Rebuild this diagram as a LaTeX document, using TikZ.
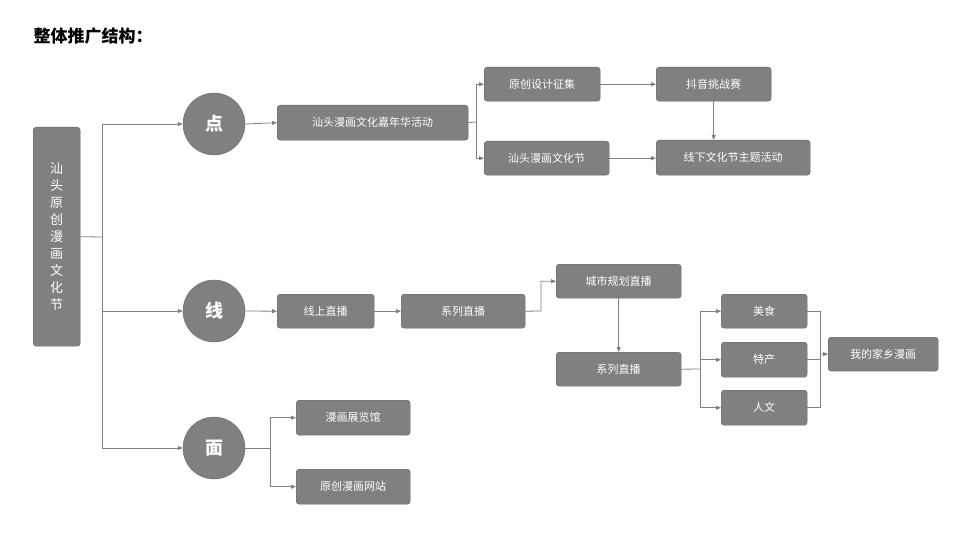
\documentclass[tikz,border=0pt]{standalone}
\usepackage{fontspec}
\setmainfont{Noto Sans CJK SC}
\usetikzlibrary{arrows.meta}
\begin{document}
\begin{tikzpicture}[x=1pt,y=-1pt,
  bx/.style={draw=black!60,fill=black!50,rounded corners=3pt,text=white,font=\fontsize{11}{13}\selectfont,inner sep=0pt,anchor=north west},
  cir/.style={draw=black!60,fill=black!50,circle,minimum size=62pt,text=white,font=\fontsize{18}{20}\selectfont\bfseries,inner sep=0pt},
  ln/.style={draw=black!50,line width=0.8pt},
  ar/.style={ln,-{Triangle[length=5pt,width=4pt]}}]
\useasboundingbox (0,0) rectangle (960,540);
\node[anchor=west,font=\fontsize{17}{20}\selectfont\bfseries] (title) at (30,36) {整体推广结构：};
\newcommand{\bxat}[5]{\node[bx,minimum width=#4-#2,minimum height=#5-#3] (#1) at (#2,#3) {};}
\node[bx,minimum width=47pt,minimum height=219pt] (root) at (33,127) {};
\node[text=white,font=\fontsize{13}{17}\selectfont,align=center] (roott) at (root.center) {汕\\头\\原\\创\\漫\\画\\文\\化\\节};
\node[cir] (dian) at (214,124) {点};
\node[cir] (xian) at (214,311) {线};
\node[cir] (mian) at (214,448) {面};
\node[bx,minimum width=191pt,minimum height=35pt] (a1) at (277,105) {};
\node[text=white,font=\fontsize{11}{13}\selectfont] at (a1.center) {汕头漫画文化嘉年华活动};
\node[bx,minimum width=116pt,minimum height=34pt] (a2) at (484,67) {};
\node[text=white,font=\fontsize{11}{13}\selectfont] at (a2.center) {原创设计征集};
\node[bx,minimum width=125pt,minimum height=34pt] (a3) at (484,141) {};
\node[text=white,font=\fontsize{11}{13}\selectfont] at (a3.center) {汕头漫画文化节};
\node[bx,minimum width=115pt,minimum height=34pt] (a4) at (656,67) {};
\node[text=white,font=\fontsize{11}{13}\selectfont] at (a4.center) {抖音挑战赛};
\node[bx,minimum width=154pt,minimum height=35pt] (a5) at (656,140) {};
\node[text=white,font=\fontsize{11}{13}\selectfont] at (a5.center) {线下文化节主题活动};
\node[bx,minimum width=97pt,minimum height=34pt] (b1) at (277,294) {};
\node[text=white,font=\fontsize{11}{13}\selectfont] at (b1.center) {线上直播};
\node[bx,minimum width=124pt,minimum height=34pt] (b2) at (401,294) {};
\node[text=white,font=\fontsize{11}{13}\selectfont] at (b2.center) {系列直播};
\node[bx,minimum width=125pt,minimum height=34pt] (b3) at (556,264) {};
\node[text=white,font=\fontsize{11}{13}\selectfont] at (b3.center) {城市规划直播};
\node[bx,minimum width=125pt,minimum height=34pt] (b4) at (556,352) {};
\node[text=white,font=\fontsize{11}{13}\selectfont] at (b4.center) {系列直播};
\node[bx,minimum width=86pt,minimum height=34pt] (c1) at (721,294) {};
\node[text=white,font=\fontsize{11}{13}\selectfont] at (c1.center) {美食};
\node[bx,minimum width=86pt,minimum height=35pt] (c2) at (721,342) {};
\node[text=white,font=\fontsize{11}{13}\selectfont] at (c2.center) {特产};
\node[bx,minimum width=86pt,minimum height=35pt] (c3) at (721,390) {};
\node[text=white,font=\fontsize{11}{13}\selectfont] at (c3.center) {人文};
\node[bx,minimum width=110pt,minimum height=34pt] (d1) at (828,337) {};
\node[text=white,font=\fontsize{11}{13}\selectfont] at (d1.center) {我的家乡漫画};
\node[bx,minimum width=114pt,minimum height=35pt] (e1) at (296,400) {};
\node[text=white,font=\fontsize{11}{13}\selectfont] at (e1.center) {漫画展览馆};
\node[bx,minimum width=114pt,minimum height=35pt] (e2) at (296,469) {};
\node[text=white,font=\fontsize{11}{13}\selectfont] at (e2.center) {原创漫画网站};
% root branches
\coordinate (r1) at (102,237);
\draw[ln] (root.east) -- (r1);
\draw[ar] (r1) |- (dian.west);
\draw[ar] (r1) |- (xian.west);
\draw[ar] (r1) |- (mian.west);
\draw[ar] (dian.east) -- (a1.west);
\coordinate (s1) at (476,122);
\draw[ln] (a1.east) -- (s1);
\draw[ar] (s1) |- (a2.west);
\draw[ar] (s1) |- (a3.west);
\draw[ar] (a2.east) -- (a4.west);
\draw[ar] (a3.east) -- (a3.east -| a5.west);
\draw[ar] (a4.south) -- (a5.north -| a4.south);
\draw[ar] (xian.east) -- (b1.west);
\draw[ar] (b1.east) -- (b2.west);
\coordinate (s2) at (541,311);
\draw[ar] (b2.east) -- (s2) |- (b3.west);
\draw[ar] (b3.south) -- (b4.north);
\coordinate (s3) at (700,369);
\draw[ln] (b4.east) -- (s3);
\draw[ar] (s3) |- (c1.west);
\draw[ar] (s3) |- (c2.west);
\draw[ar] (s3) |- (c3.west);
\coordinate (s4) at (820,354);
\draw[ln] (c1.east) -| (s4);
\draw[ln] (c3.east) -| (s4);
\draw[ln] (c2.east) -- (c2.east -| s4);
\draw[ar] (s4) -- (d1.west);
\coordinate (s5) at (270,448);
\draw[ln] (mian.east) -- (s5);
\draw[ar] (s5) |- (e1.west);
\draw[ar] (s5) |- (e2.west);
\end{tikzpicture}
\end{document}
